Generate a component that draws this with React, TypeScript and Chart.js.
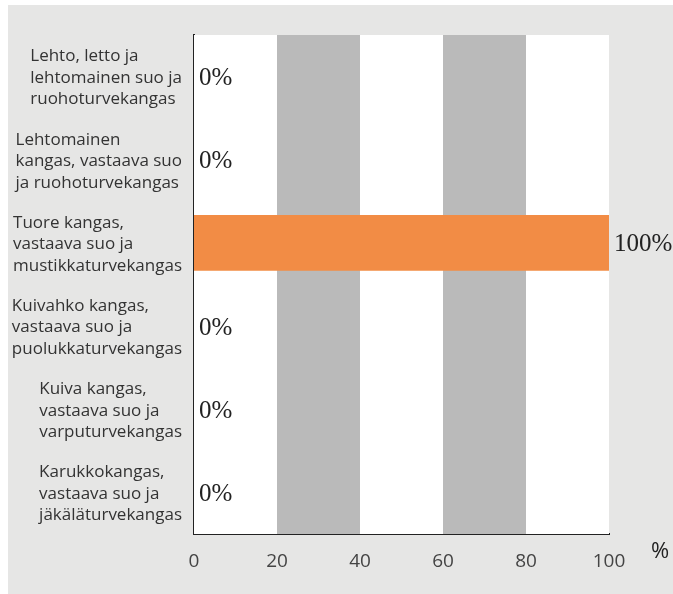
import React, { useEffect, useRef } from "react";
import { Chart, registerables } from "chart.js";

Chart.register(...registerables);

const categories: string[][] = [
  ["Lehto, letto ja", "lehtomainen suo ja", "ruohoturvekangas"],
  ["Lehtomainen", "kangas, vastaava suo", "ja ruohoturvekangas"],
  ["Tuore kangas,", "vastaava suo ja", "mustikkaturvekangas"],
  ["Kuivahko kangas,", "vastaava suo ja", "puolukkaturvekangas"],
  ["Kuiva kangas,", "vastaava suo ja", "varputurvekangas"],
  ["Karukkokangas,", "vastaava suo ja", "jäkäläturvekangas"],
];
const values: number[] = [0, 0, 100, 0, 0, 0];
const valueLabels: string[] = ["0%", "0%", "100%", "0%", "0%", "0%"];
const xTicks: number[] = [0, 20, 40, 60, 80, 100];
const bands: number[][] = [
  [20, 40],
  [60, 80],
];
const unitLabel = "%";

const PANEL = "#e6e6e5";
const BAND = "#bababa";
const ORANGE = "#f28c45";
const SANS = "'Open Sans', sans-serif";
const SERIF = "'Liberation Serif', serif";

const decorPlugin = {
  id: "decor",
  beforeDraw(chart: any) {
    const { ctx } = chart;
    ctx.save();
    ctx.fillStyle = PANEL;
    ctx.fillRect(8, 5, 665, 589);
    ctx.restore();
  },
  beforeDatasetsDraw(chart: any) {
    const { ctx, chartArea } = chart;
    const xs = chart.scales.x;
    ctx.save();
    ctx.fillStyle = "#ffffff";
    ctx.fillRect(chartArea.left, chartArea.top, chartArea.right - chartArea.left, chartArea.bottom - chartArea.top);
    ctx.fillStyle = BAND;
    bands.forEach(([a, b]) => {
      const x1 = xs.getPixelForValue(a);
      const x2 = xs.getPixelForValue(b);
      ctx.fillRect(x1, chartArea.top, x2 - x1, chartArea.bottom - chartArea.top);
    });
    ctx.restore();
  },
  afterDraw(chart: any) {
    const { ctx, chartArea } = chart;
    const xs = chart.scales.x;
    const ys = chart.scales.y;
    ctx.save();
    // category labels: each block left-aligned, block right edge aligned
    ctx.font = `17px ${SANS}`;
    ctx.fillStyle = "#333333";
    ctx.textBaseline = "middle";
    ctx.textAlign = "left";
    const lh = 21.5;
    categories.forEach((lines, i) => {
      const yc = ys.getPixelForValue(i) + 1.5;
      const maxW = Math.max(...lines.map((l) => ctx.measureText(l).width));
      const x0 = chartArea.left - 12 - maxW;
      lines.forEach((line, j) => {
        ctx.fillText(line, x0, yc + (j - (lines.length - 1) / 2) * lh);
      });
    });
    // value labels
    ctx.font = `25px ${SERIF}`;
    ctx.fillStyle = "#222222";
    values.forEach((v, i) => {
      const x = xs.getPixelForValue(v) + 5;
      const y = ys.getPixelForValue(i) + 2;
      ctx.fillText(valueLabels[i], x, y);
    });
    // unit label
    ctx.font = `22px ${SANS}`;
    ctx.fillStyle = "#222222";
    ctx.textAlign = "center";
    ctx.fillText(unitLabel, 660, 552);
    ctx.restore();
  },
};

export default function App() {
  const ref = useRef<HTMLCanvasElement | null>(null);
  useEffect(() => {
    if (!ref.current) return;
    const chart = new Chart(ref.current, {
      type: "bar",
      data: {
        labels: categories.map((c) => c.join(" ")),
        datasets: [
          {
            data: values,
            backgroundColor: ORANGE,
            borderWidth: 0,
            barPercentage: 0.67,
            categoryPercentage: 1,
          },
        ],
      },
      options: {
        indexAxis: "y",
        animation: false,
        responsive: false,
        maintainAspectRatio: false,
        layout: { padding: { left: 0, top: 35, right: 64, bottom: 0 } },
        plugins: {
          legend: { display: false },
          tooltip: { enabled: false },
        },
        scales: {
          x: {
            min: 0,
            max: 100,
            afterBuildTicks: (s: any) => {
              s.ticks = xTicks.map((v) => ({ value: v }));
            },
            afterFit: (s: any) => {
              s.height = 60;
            },
            ticks: {
              font: { family: SANS, size: 19 },
              color: "#444444",
              padding: 16,
              maxRotation: 0,
            },
            grid: { display: false, drawTicks: false },
            border: { display: true, color: "#222222", width: 2 },
          },
          y: {
            afterFit: (s: any) => {
              s.width = 194;
            },
            ticks: { display: false },
            grid: { display: false, drawTicks: false },
            border: { display: true, color: "#222222", width: 2 },
          },
        },
      },
      plugins: [decorPlugin],
    } as any);
    return () => chart.destroy();
  }, []);
  return (
    <div style={{ position: "fixed", left: 0, top: 0, width: 673, height: 594 }}>
      <canvas ref={ref} width={673} height={594} style={{ width: 673, height: 594 }} />
    </div>
  );
}
